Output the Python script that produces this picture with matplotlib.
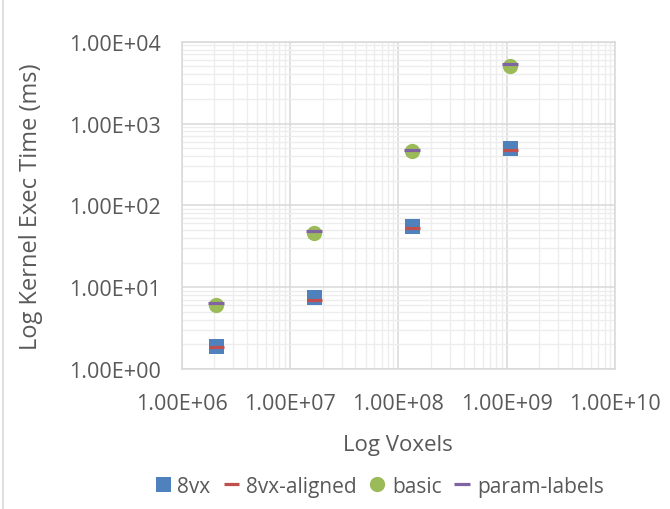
import math
import matplotlib.pyplot as plt
import matplotlib.ticker as mticker
from matplotlib.patches import Rectangle

plt.rcParams['font.family'] = ['Open Sans', 'DejaVu Sans']

# voxels per run (128^3 .. 1024^3)
voxels = [2097152, 16777216, 134217728, 1073741824]
# kernel exec time (ms)
t_8vx = [1.93, 7.6, 56.5, 508]
t_8vx_aligned = [1.87, 7.03, 52.9, 480]
t_basic = [6.06, 45.6, 459, 5100]
t_param_labels = [6.36, 48.2, 476, 5400]

x_ticks = [1e6, 1e7, 1e8, 1e9, 1e10]
y_ticks = [1e0, 1e1, 1e2, 1e3, 1e4]

blue = '#4F81BD'
red = '#C0504D'
green = '#9BBB59'
purple = '#8064A2'
txt = '#595959'

fig = plt.figure(figsize=(6.7, 5.1), dpi=100)
ax = fig.add_axes([0.271, 0.2745, 0.647, 0.6418])

ax.set_xscale('log')
ax.set_yscale('log')
ax.set_xlim(1e6, 1e10)
ax.set_ylim(1e0, 1e4)

ax.plot(voxels, t_8vx, ls='none', marker='s', ms=10.8, color=blue, mew=0, label='8vx', zorder=3)
ax.plot(voxels, t_8vx_aligned, ls='none', marker='_', ms=10.8, mew=2.3, color=red, label='8vx-aligned', zorder=4)
ax.plot(voxels, t_basic, ls='none', marker='o', ms=11, color=green, mew=0, label='basic', zorder=3)
ax.plot(voxels, t_param_labels, ls='none', marker='_', ms=11, mew=2.3, color=purple, label='param-labels', zorder=4)

ax.set_xticks(x_ticks)
ax.set_yticks(y_ticks)
fmt = mticker.FuncFormatter(lambda v, p: '1.00E%+03d' % round(math.log10(v)))
ax.xaxis.set_major_formatter(fmt)
ax.yaxis.set_major_formatter(fmt)
ax.xaxis.set_minor_locator(mticker.LogLocator(base=10, subs=range(2, 10)))
ax.yaxis.set_minor_locator(mticker.LogLocator(base=10, subs=range(2, 10)))
ax.xaxis.set_minor_formatter(mticker.NullFormatter())
ax.yaxis.set_minor_formatter(mticker.NullFormatter())

ax.grid(which='major', color='#D9D9D9', lw=1.1)
ax.grid(which='minor', color='#EDEDED', lw=1.0)
ax.set_axisbelow(True)
for s in ax.spines.values():
    s.set_color('#D9D9D9')
    s.set_linewidth(1.1)

ax.tick_params(which='both', length=0, labelsize=15.5, labelcolor=txt)
ax.tick_params(axis='x', pad=17)
ax.tick_params(axis='y', pad=15)

ax.set_xlabel('Log Voxels', fontsize=16, color=txt)
ax.set_ylabel('Log Kernel Exec Time (ms)', fontsize=17, color=txt)
ax.xaxis.set_label_coords(0.5, -0.2)
ax.yaxis.set_label_coords(-0.32, 0.5)

fig.legend(loc='center', bbox_to_anchor=(0.566, 0.045), ncol=4, frameon=False,
           fontsize=15, labelcolor=txt, handlelength=0.8, handletextpad=0.3,
           columnspacing=0.6)

fig.patches.append(Rectangle((0.004, -0.01), 1.1, 1.1, transform=fig.transFigure,
                             fill=False, edgecolor='#D9D9D9', lw=1.2))

fig.savefig('out.png', dpi=100)
